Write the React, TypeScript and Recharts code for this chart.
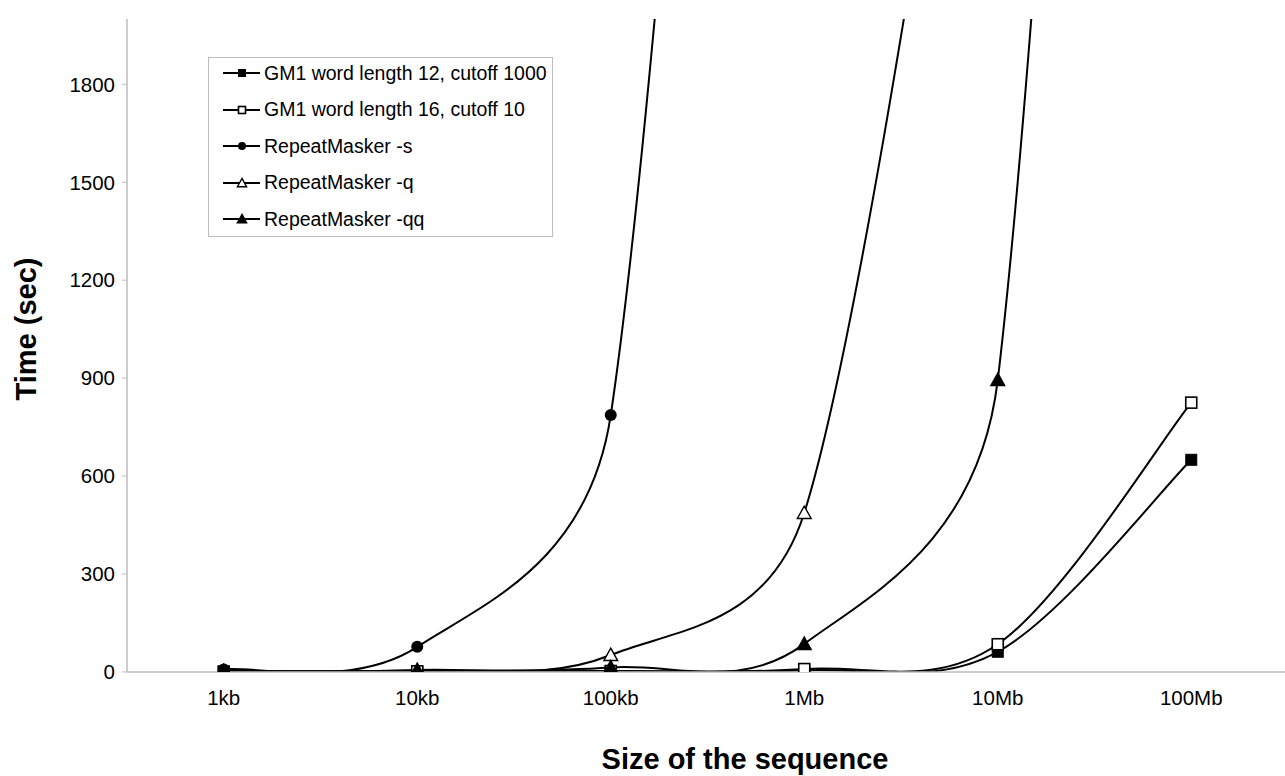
import React from 'react'
import { LineChart, Line, XAxis, YAxis, Legend } from 'recharts'

// sequence sizes on the x axis
const categories = ['1kb', '10kb', '100kb', '1Mb', '10Mb', '100Mb']

// run times in seconds (values above the visible range are clipped)
const gm12Values = [1, 1, 2, 5, 62, 650]
const gm16Values = [1, 2, 3, 9, 85, 825]
const rmSValues = [8, 77, 787, 8000, null, null]
const rmQValues = [3, 6, 52, 487, 3800, null]
const rmQQValues = [2, 4, 14, 86, 894, 10000]

const yTicks = [0, 300, 600, 900, 1200, 1500, 1800]
const boundaryTicks = [1, 2, 3, 4, 5]

type MarkerKind = 'squareFilled' | 'squareOpen' | 'circle' | 'triangleOpen' | 'triangleFilled'

const seriesList: { key: string; name: string; marker: MarkerKind }[] = [
  { key: 'gm12', name: 'GM1 word length 12, cutoff 1000', marker: 'squareFilled' },
  { key: 'gm16', name: 'GM1 word length 16, cutoff 10', marker: 'squareOpen' },
  { key: 'rmS', name: 'RepeatMasker -s', marker: 'circle' },
  { key: 'rmQ', name: 'RepeatMasker -q', marker: 'triangleOpen' },
  { key: 'rmQQ', name: 'RepeatMasker -qq', marker: 'triangleFilled' },
]

const data = categories.map((size, i) => ({
  size,
  gm12: gm12Values[i],
  gm16: gm16Values[i],
  rmS: rmSValues[i],
  rmQ: rmQValues[i],
  rmQQ: rmQQValues[i],
}))

const FONT = '"Liberation Sans", Arial, sans-serif'
const AXIS_GREY = '#bdbdbd'

// Excel-style smoothed line: bezier segments, control arms capped at half the segment length
function excelSmooth(context: any) {
  let pts: number[][] = []
  const dist = (a: number[], b: number[]) => Math.hypot(b[0] - a[0], b[1] - a[1])
  return {
    areaStart() {},
    areaEnd() {},
    lineStart() {
      pts = []
    },
    point(x: number, y: number) {
      pts.push([+x, +y])
    },
    lineEnd() {
      const n = pts.length
      if (!n) return
      context.moveTo(pts[0][0], pts[0][1])
      for (let i = 0; i < n - 1; i++) {
        const p0 = pts[Math.max(i - 1, 0)]
        const p1 = pts[i]
        const p2 = pts[i + 1]
        const p3 = pts[Math.min(i + 2, n - 1)]
        const d12 = dist(p1, p2)
        const d02 = dist(p0, p2)
        const d13 = dist(p1, p3)
        let f0 = 1 / 6
        let f1 = 1 / 6
        if (!(d02 / 6 < d12 / 2 && d13 / 6 < d12 / 2)) {
          if (d02 / 6 >= d12 / 2 && d02 > 0) f0 = d12 / 2 / d02
          if (d13 / 6 >= d12 / 2 && d13 > 0) f1 = d12 / 2 / d13
        }
        context.bezierCurveTo(
          p1[0] + (p2[0] - p0[0]) * f0,
          p1[1] + (p2[1] - p0[1]) * f0,
          p2[0] - (p3[0] - p1[0]) * f1,
          p2[1] - (p3[1] - p1[1]) * f1,
          p2[0],
          p2[1]
        )
      }
    },
  }
}

function Marker({ kind, cx, cy, s = 6 }: { kind: MarkerKind; cx: number; cy: number; s?: number }) {
  switch (kind) {
    case 'squareFilled':
      return <rect x={cx - s + 0.5} y={cy - s + 0.5} width={2 * s - 1} height={2 * s - 1} fill="#000" stroke="#000" />
    case 'squareOpen':
      return <rect x={cx - s + 0.5} y={cy - s + 0.5} width={2 * s - 1} height={2 * s - 1} fill="#fff" stroke="#000" strokeWidth={1.6} />
    case 'circle':
      return <circle cx={cx} cy={cy} r={s} fill="#000" />
    case 'triangleOpen':
    case 'triangleFilled': {
      const h = s * 1.15
      return (
        <path
          d={`M${cx},${cy - h} L${cx + h},${cy + h * 0.8} L${cx - h},${cy + h * 0.8} Z`}
          fill={kind === 'triangleOpen' ? '#fff' : '#000'}
          stroke="#000"
          strokeWidth={1.4}
          strokeLinejoin="miter"
        />
      )
    }
  }
  return null
}

const makeDot = (kind: MarkerKind) => (props: any) => {
  const { cx, cy, index, value } = props
  if (cx == null || cy == null || value == null) return <g key={`d-${index}`} />
  return (
    <g key={`d-${index}`}>
      <Marker kind={kind} cx={cx} cy={cy} />
    </g>
  )
}

// legend rows follow the series order, not recharts' sorted payload
const LegendBox = ({ payload }: any) => {
  const shown = new Set(((payload || []) as any[]).map((e) => e.dataKey))
  return (
    <div
      style={{
        border: `1px solid ${AXIS_GREY}`,
        background: '#fff',
        width: 345,
        height: 180,
        boxSizing: 'border-box',
      }}
    >
      {seriesList
        .filter((s) => shown.size === 0 || shown.has(s.key))
        .map((s) => (
          <div key={s.key} style={{ display: 'flex', alignItems: 'center', height: 30, marginBottom: 6.6, paddingLeft: 14 }}>
            <svg width={37} height={20} style={{ display: 'block' }}>
              <line x1={0} y1={10} x2={37} y2={10} stroke="#000" strokeWidth={1.8} />
              <Marker kind={s.marker} cx={19} cy={10} s={4} />
            </svg>
            <span style={{ fontFamily: FONT, fontSize: 19.5, marginLeft: 4, color: '#000', whiteSpace: 'nowrap' }}>
              {s.name}
            </span>
          </div>
        ))}
    </div>
  )
}

export default function App() {
  return (
    <div style={{ position: 'absolute', left: 0, top: 0, width: 1285, height: 776, overflow: 'hidden', background: '#fff' }}>
      <LineChart width={1295} height={776} data={data} margin={{ top: 19, right: 7, bottom: 0, left: 0 }}>
        <XAxis
          xAxisId="b"
          type="number"
          domain={[0, 6]}
          allowDataOverflow
          ticks={boundaryTicks}
          tick={false}
          axisLine={false}
          tickLine={{ stroke: AXIS_GREY }}
          tickSize={7}
          height={0}
        />
        <XAxis
          xAxisId="cat"
          dataKey="size"
          type="category"
          scale="band"
          height={104}
          axisLine={{ stroke: AXIS_GREY, strokeWidth: 1.5 }}
          tickLine={false}
          tickSize={0}
          tickMargin={18}
          tick={{ fill: '#000', fontSize: 20.5, fontFamily: FONT }}
          label={() => (
            <text x={745} y={769} textAnchor="middle" fontFamily={FONT} fontWeight="bold" fontSize={29} fill="#000">
              Size of the sequence
            </text>
          )}
        />
        <YAxis
          type="number"
          domain={[0, 2000]}
          allowDataOverflow
          ticks={yTicks}
          width={127}
          axisLine={{ stroke: AXIS_GREY, strokeWidth: 1.5 }}
          tickLine={{ stroke: AXIS_GREY }}
          tickSize={5}
          tickMargin={7}
          tick={{ fill: '#000', fontSize: 20.5, fontFamily: FONT }}
          label={() => (
            <text
              x={36}
              y={329}
              textAnchor="middle"
              transform="rotate(-90, 36, 329)"
              fontFamily={FONT}
              fontWeight="bold"
              fontSize={29}
              fill="#000"
            >
              Time (sec)
            </text>
          )}
        />
        <Legend
          layout="vertical"
          align="center"
          verticalAlign="middle"
          wrapperStyle={{ left: 208, top: 57, width: 345, height: 180 }}
          content={<LegendBox />}
        />
        {seriesList.map((s) => (
          <Line
            key={s.key}
            xAxisId="cat"
            dataKey={s.key}
            name={s.name}
            type={excelSmooth as any}
            stroke="#000"
            strokeWidth={2}
            dot={makeDot(s.marker)}
            activeDot={false}
            isAnimationActive={false}
          />
        ))}
      </LineChart>
    </div>
  )
}
